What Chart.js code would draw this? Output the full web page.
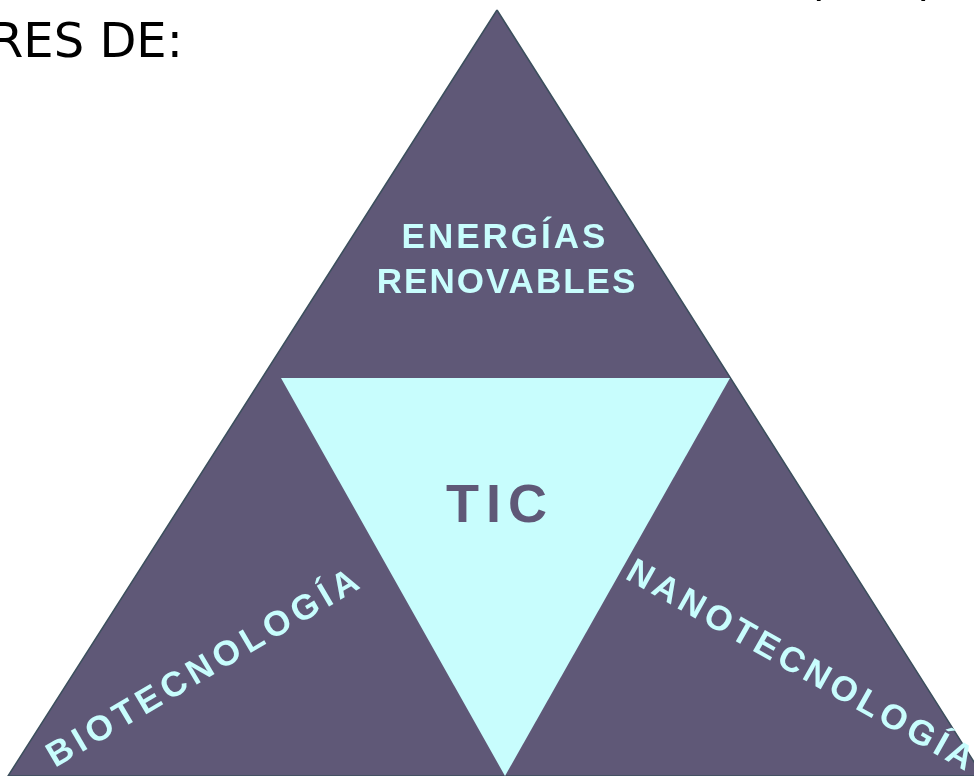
<!DOCTYPE html>
<html>
<head>
<meta charset="utf-8">
<script src="https://cdn.jsdelivr.net/npm/chart.js@4/dist/chart.umd.min.js"></script>
<style>
  body { margin: 0; background: #fff; }
  #chart { display: block; }
</style>
</head>
<body>
<canvas id="chart" width="974" height="776"></canvas>
<script>
// triangle corners (diagram units = canvas pixels)
const outerX = [497, 8, 983, 497];
const outerY = [10, 776, 776, 10];
const innerX = [281, 730, 505, 281];
const innerY = [378, 378, 776, 378];

const areaLabels = ['ENERGÍAS', 'RENOVABLES', 'TIC', 'BIOTECNOLOGÍA', 'NANOTECNOLOGÍA'];
const headingLines = ['(UE)', 'RES DE:'];

const toPoints = (xs, ys) => xs.map((x, i) => ({ x: x, y: ys[i] }));

const purple = '#5f5877';
const cyan = '#c8fdfd';

const labelsPlugin = {
  id: 'labels',
  afterDatasetsDraw(chart) {
    const ctx = chart.ctx;
    const sx = chart.scales.x, sy = chart.scales.y;
    const px = v => sx.getPixelForValue(v);
    const py = v => sy.getPixelForValue(v);

    const put = (text, x, y, opts) => {
      ctx.save();
      ctx.translate(px(x), py(y));
      ctx.rotate((opts.angle || 0) * Math.PI / 180);
      ctx.font = opts.font;
      ctx.fillStyle = opts.color;
      ctx.letterSpacing = (opts.spacing || 0) + 'px';
      ctx.textAlign = opts.align || 'left';
      ctx.textBaseline = 'alphabetic';
      ctx.fillText(text, 0, 0);
      ctx.restore();
    };

    const bold = 'bold 35px "Liberation Sans", Arial, sans-serif';
    put(areaLabels[0], 505, 248, { font: bold, color: cyan, spacing: 3, align: 'center' });
    put(areaLabels[1], 507, 293, { font: bold, color: cyan, spacing: 2, align: 'center' });
    put(areaLabels[2], 500, 522, { font: 'bold 54px "Liberation Sans", Arial, sans-serif', color: purple, spacing: 7, align: 'center' });
    put(areaLabels[3], 55, 768, { font: bold, color: cyan, spacing: 5, angle: -30.5 });
    put(areaLabels[4], 624, 578, { font: bold, color: cyan, spacing: 4.3, angle: 29.5 });

    const plain = '48px "DejaVu Sans", sans-serif';
    put(headingLines[0], 806, -5, { font: plain, color: '#000', spacing: 9 });
    put(headingLines[1], -10, 57, { font: plain, color: '#000' });
  }
};

const ctx = document.getElementById('chart').getContext('2d');
const myChart = new Chart(ctx, {
  type: 'scatter',
  data: {
    datasets: [{
      label: 'TIC',
      data: toPoints(innerX, innerY),
      showLine: true,
      fill: 'shape',
      backgroundColor: cyan,
      borderColor: cyan,
      borderWidth: 0,
      pointRadius: 0,
      tension: 0
    },
    {
      label: 'outer',
      data: toPoints(outerX, outerY),
      showLine: true,
      fill: 'shape',
      backgroundColor: purple,
      borderColor: '#3c4f5d',
      borderWidth: 1.5,
      pointRadius: 0,
      tension: 0
    }]
  },
  options: {
    responsive: false,
    animation: false,
    layout: { padding: 0 },
    plugins: {
      legend: { display: false },
      tooltip: { enabled: false }
    },
    scales: {
      x: { type: 'linear', min: 0, max: 974, display: false },
      y: { type: 'linear', min: 0, max: 776, reverse: true, display: false }
    }
  },
  plugins: [labelsPlugin]
});
</script>
</body>
</html>
